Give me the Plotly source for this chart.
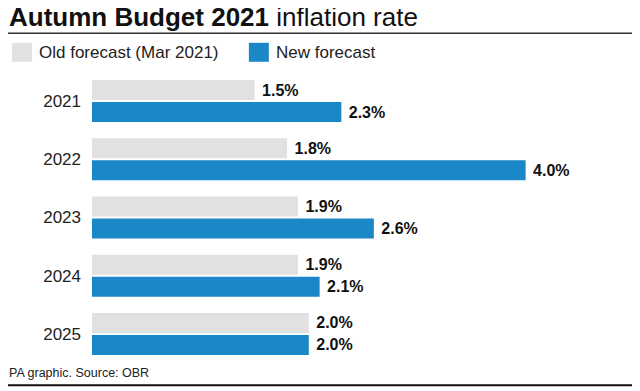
import plotly.graph_objects as go

years = ["2021", "2022", "2023", "2024", "2025"]
old_forecast = [1.5, 1.8, 1.9, 1.9, 2.0]
new_forecast = [2.3, 4.0, 2.6, 2.1, 2.0]
series_names = ["Old forecast (Mar 2021)", "New forecast"]

GREY = "#e1e1e2"
BLUE = "#1a87c7"
FONT = "Liberation Sans, Arial, sans-serif"

# page body has an 8px margin, so the figure is drawn 8px in from the top-left
OFF = 8
W, H = 640 - OFF, 391 - OFF
L, R, T, B = 92 - OFF, 5.5, 72.2 - OFF, 27.8
pw, ph = W - L - R, H - T - B


def px(x):
    return (x - OFF - L) / pw


def py(y):
    return 1 - (y - OFF - T) / ph


fig = go.Figure()
for vals, color, name in ((old_forecast, GREY, series_names[0]), (new_forecast, BLUE, series_names[1])):
    fig.add_trace(go.Bar(
        y=years, x=vals, orientation="h", name=name,
        marker=dict(color=color, line=dict(width=0)),
        text=["\u00a0" + f"{v:.1f}%" for v in vals],
        textposition="outside", cliponaxis=False, constraintext="none",
        textfont=dict(family=FONT, size=16, color="#111111", weight="bold"),
    ))

annotations = [
    dict(x=px(7), y=py(17), xref="paper", yref="paper", xanchor="left", yanchor="middle",
         text="<b>Autumn Budget 2021</b> inflation rate", showarrow=False,
         font=dict(family=FONT, size=26, color="#111111")),
    dict(x=px(37), y=py(52.5), xref="paper", yref="paper", xanchor="left", yanchor="middle",
         text=series_names[0], showarrow=False,
         font=dict(family=FONT, size=17, color="#222222")),
    dict(x=px(274), y=py(52.5), xref="paper", yref="paper", xanchor="left", yanchor="middle",
         text=series_names[1], showarrow=False,
         font=dict(family=FONT, size=17, color="#222222")),
    dict(x=px(7), y=py(382), xref="paper", yref="paper", xanchor="left", yanchor="bottom",
         text="PA graphic. Source: OBR", showarrow=False,
         font=dict(family=FONT, size=12.5, color="#222222")),
]

shapes = [
    dict(type="line", xref="paper", yref="paper", x0=px(0), x1=px(640), y0=py(33.5), y1=py(33.5),
         line=dict(color="#333333", width=1.5)),
    dict(type="line", xref="paper", yref="paper", x0=px(0), x1=px(640), y0=py(385.5), y1=py(385.5),
         line=dict(color="#111111", width=2)),
    dict(type="rect", xref="paper", yref="paper", x0=px(12), x1=px(32), y0=py(62), y1=py(43),
         fillcolor=GREY, line=dict(width=0)),
    dict(type="rect", xref="paper", yref="paper", x0=px(249), x1=px(269), y0=py(62), y1=py(43),
         fillcolor=BLUE, line=dict(width=0)),
]

fig.update_layout(
    width=W, height=H,
    margin=dict(l=L, r=R, t=T, b=B, pad=0),
    paper_bgcolor="white", plot_bgcolor="white",
    barmode="group", bargap=0.244, bargroupgap=0.09,
    showlegend=False,
    annotations=annotations, shapes=shapes,
    font=dict(family=FONT, color="#222222"),
)
fig.update_xaxes(range=[0, pw / 108.5], visible=False, showgrid=False, zeroline=False)
fig.update_yaxes(type="category", autorange="reversed", showgrid=False, zeroline=False, showline=False,
                 ticks="", ticklabelstandoff=10,
                 tickfont=dict(family=FONT, size=17, color="#222222"))

fig.write_html("out.html")
